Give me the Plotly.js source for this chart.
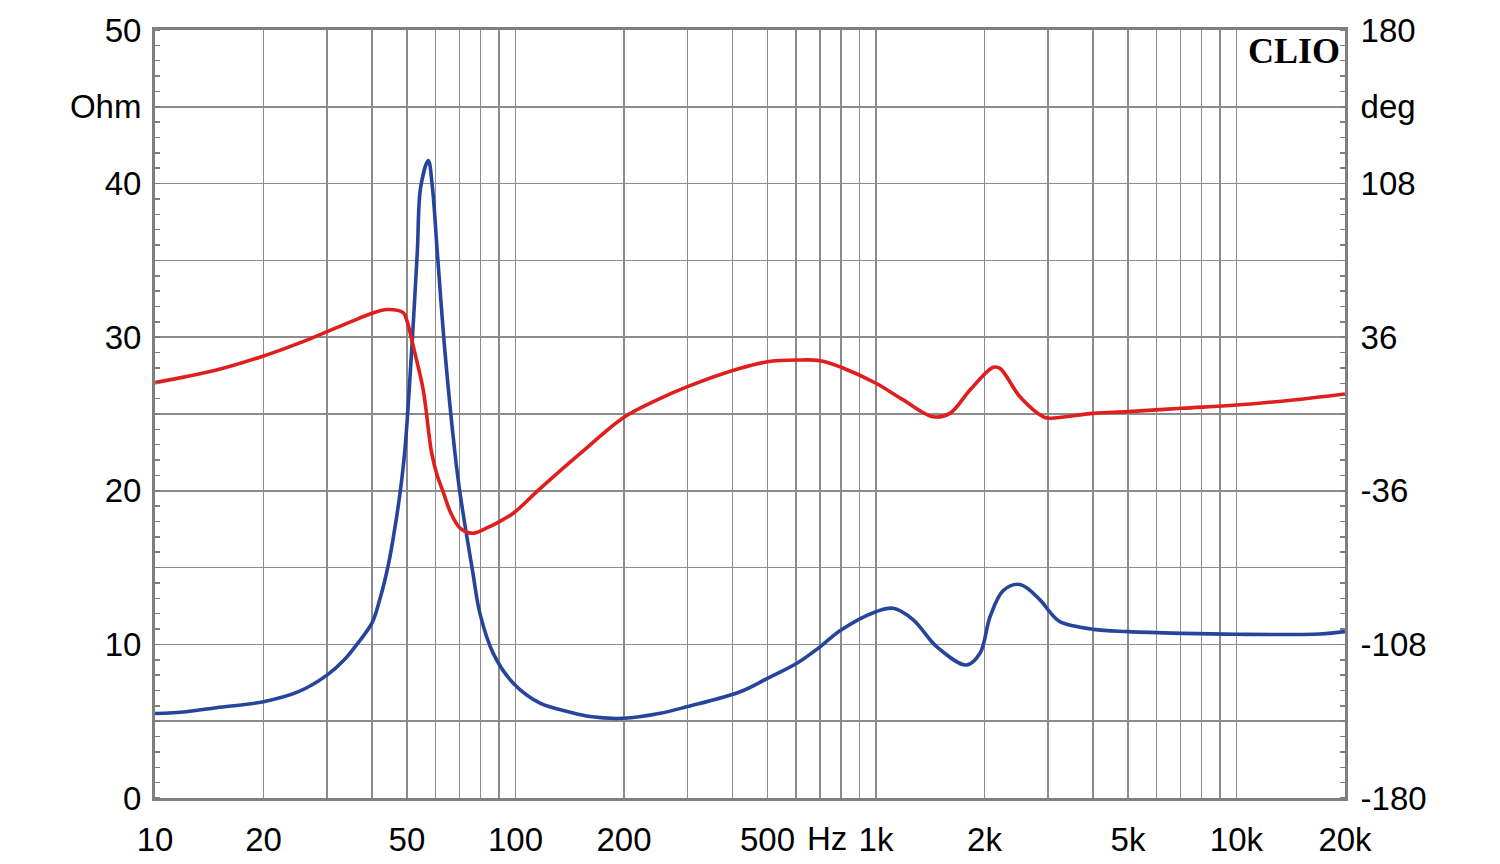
<!DOCTYPE html>
<html>
<head>
<meta charset="utf-8">
<script src="https://cdn.plot.ly/plotly-3.0.1.min.js"></script>
<style>
  html, body { margin: 0; padding: 0; background: #ffffff; }
  #chart { width: 1500px; height: 864px; }
</style>
</head>
<body>
<div id="chart"></div>
<script>
// Impedance magnitude (Ohm) vs frequency (Hz)
const impFreq = [10, 12.2, 14.8, 20, 25, 30, 33.5, 36.3, 40, 42, 44.4, 46, 47.8, 49.4, 51.5, 53.4, 54.6, 57.3, 58.8, 60.7, 63.7, 67.9, 70.2, 76, 79.7, 86.8, 98.6, 117, 140, 161, 200, 250, 300, 420, 500, 603, 700, 800, 1000, 1117, 1269, 1473, 1785, 1943, 2072, 2254, 2508, 2851, 3038, 3236, 4009, 5000, 7047, 10000, 17000, 20000];
const impOhm  = [5.5, 5.62, 5.88, 6.27, 6.92, 8.0, 9.0, 10.0, 11.4, 12.9, 15.2, 17.2, 19.8, 22.8, 29.1, 35.5, 39.8, 41.5, 39.8, 35.5, 29.1, 22.5, 19.8, 14.8, 12.0, 9.4, 7.47, 6.17, 5.62, 5.3, 5.19, 5.5, 5.95, 6.92, 7.79, 8.77, 9.85, 10.94, 12.13, 12.35, 11.6, 9.85, 8.66, 9.42, 11.8, 13.5, 13.9, 12.9, 12.1, 11.48, 10.98, 10.83, 10.72, 10.66, 10.68, 10.83];

// Impedance phase (deg) vs frequency (Hz)
const phaseFreq = [10, 14.8, 20, 25, 30, 35, 40, 44, 48.8, 49.9, 52.6, 55.5, 58.5, 60.7, 63, 66, 70.2, 76, 83, 89, 98.6, 117, 151, 200, 247, 300, 420, 500, 603, 700, 800, 1000, 1190, 1442, 1603, 1823, 2116, 2208, 2508, 2912, 3038, 4009, 5000, 7047, 10000, 14388, 20000];
const phaseDeg  = [14.7, 20.6, 27.2, 33.1, 38.6, 43.3, 47.2, 49.0, 47.5, 44.1, 28.5, 11, -18, -29, -36.5, -46, -53.5, -55.9, -53.5, -51, -46.5, -35, -18.6, -1.5, 6.6, 12.8, 21.4, 24.5, 25.3, 25.0, 21.9, 14.4, 6.6, -1.3, 0.3, 11.25, 21.9, 21.4, 8.1, -1.3, -2.0, 0.3, 1.1, 2.7, 4.2, 6.6, 9.4];

// Axis ticks and labels
const xTickVals = [10,20,30,40,50,60,70,80,90,100,200,300,400,500,600,700,800,900,1000,2000,3000,4000,5000,6000,7000,8000,9000,10000,20000];
const xTickText = ['10','20','','','50','','','','','100','200','','','500','','','','','1k','2k','','','5k','','','','','10k','20k'];
const yLeftVals = [0,5,10,15,20,25,30,35,40,45,50];
const yLeftText = ['0','','10','','20','','30','','40','Ohm','50'];
const yRightVals = [-180,-144,-108,-72,-36,0,36,72,108,144,180];
const yRightText = ['-180','','-108','','-36','','36','','108','deg','180'];

const gridColor = '#8c8c8c';
const frameColor = '#7f7f7f';
const tickFont = { family: 'Liberation Sans, Arial, sans-serif', size: 33, color: '#000000' };

const traces = [
  {
    x: impFreq, y: impOhm, type: 'scatter', mode: 'lines',
    line: { color: '#27449c', width: 3.6, shape: 'spline', smoothing: 1.0 },
    yaxis: 'y', hoverinfo: 'skip'
  },
  {
    x: phaseFreq, y: phaseDeg, type: 'scatter', mode: 'lines',
    line: { color: '#e01e1e', width: 3.6, shape: 'spline', smoothing: 1.0 },
    yaxis: 'y2', hoverinfo: 'skip'
  }
];

const layout = {
  width: 1500, height: 864,
  margin: { l: 155, r: 155, t: 30, b: 66, pad: 0 },
  paper_bgcolor: '#ffffff', plot_bgcolor: '#ffffff',
  showlegend: false,
  hovermode: false,
  xaxis: {
    type: 'log', range: [1, Math.log10(20000)],
    tickmode: 'array', tickvals: xTickVals, ticktext: xTickText,
    showgrid: true, gridcolor: gridColor, gridwidth: 1.5,
    ticks: '', tickfont: tickFont, ticklabelstandoff: 10,
    showline: true, linecolor: frameColor, linewidth: 3, mirror: true,
    zeroline: false, fixedrange: true
  },
  yaxis: {
    range: [0, 50],
    tickmode: 'array', tickvals: yLeftVals, ticktext: yLeftText,
    showgrid: true, gridcolor: gridColor, gridwidth: 1.5,
    ticks: '', tickfont: tickFont, ticklabelstandoff: 4,
    minor: { tickmode: 'linear', tick0: 0, dtick: 1, ticks: 'inside', ticklen: 5, tickcolor: frameColor, tickwidth: 1.5, showgrid: false },
    showline: true, linecolor: frameColor, linewidth: 3, mirror: true,
    zeroline: false, fixedrange: true
  },
  yaxis2: {
    range: [-180, 180], overlaying: 'y', side: 'right',
    tickmode: 'array', tickvals: yRightVals, ticktext: yRightText,
    showgrid: false, ticks: '', tickfont: tickFont, ticklabelstandoff: 6,
    minor: { tickmode: 'linear', tick0: -180, dtick: 7.2, ticks: 'inside', ticklen: 5, tickcolor: frameColor, tickwidth: 1.5, showgrid: false },
    showline: true, linecolor: frameColor, linewidth: 3,
    zeroline: false, fixedrange: true
  },
  annotations: [
    {
      text: 'Hz', xref: 'x', yref: 'paper', x: Math.log10(730), y: 0,
      xanchor: 'center', yanchor: 'top', yshift: -20, xshift: 0,
      showarrow: false, font: tickFont
    },
    {
      text: '<b>CLIO</b>', xref: 'paper', yref: 'paper', x: 1, y: 1,
      xanchor: 'right', yanchor: 'top', xshift: -3, yshift: 1,
      showarrow: false,
      font: { family: 'Liberation Serif, Times New Roman, serif', size: 36, color: '#000000' }
    }
  ]
};

Plotly.newPlot('chart', traces, layout, { displayModeBar: false, staticPlot: true });
</script>
</body>
</html>
